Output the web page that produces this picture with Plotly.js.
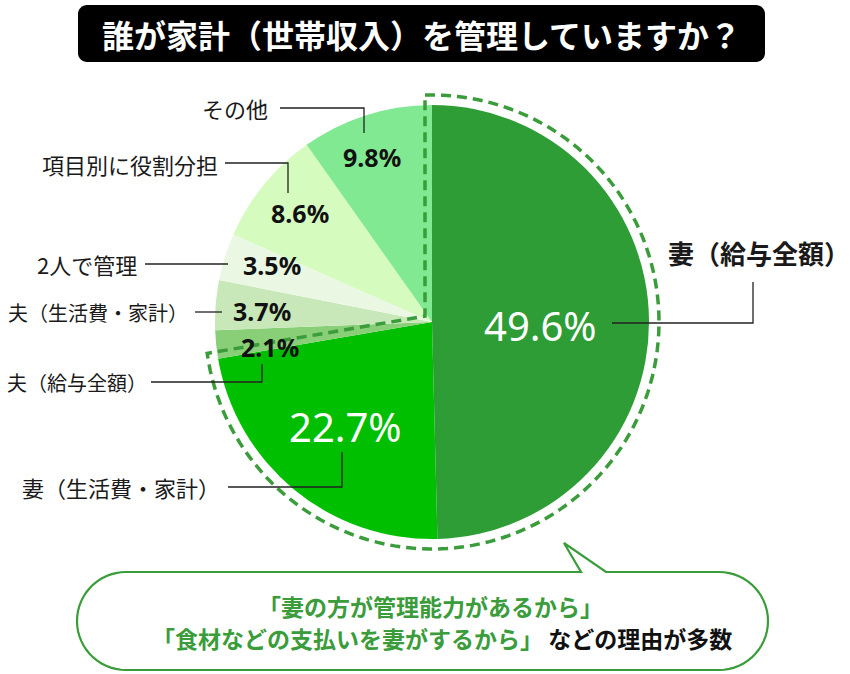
<!DOCTYPE html>
<html>
<head>
<meta charset="utf-8">
<script src="https://cdn.plot.ly/plotly-3.0.1.min.js"></script>
<style>html,body{margin:0;padding:0;background:#fff;}#chart{width:850px;height:674px;}</style>
</head>
<body>
<div id="chart"></div>
<script>
// ---- data ----
const categories = ["妻（給与全額）", "妻（生活費・家計）", "夫（給与全額）", "夫（生活費・家計）", "2人で管理", "項目別に役割分担", "その他"];
const shares = [49.6, 22.7, 2.1, 3.7, 3.5, 8.6, 9.8];
const titleText = "誰が家計（世帯収入）を管理していますか？";
const noteLine1 = "「妻の方が管理能力があるから」";
const noteLine2Green = "「食材などの支払いを妻がするから」";
const noteLine2Black = " などの理由が多数";

// ---- geometry / style ----
const W = 850, H = 674;
const cx = 432, cy = 322, R = 217;
const X = x => x / W, Y = y => 1 - y / H;
const colors = ["#2e9d36", "#00bf00", "#88cf78", "#c9e8b9", "#eaf8e3", "#d5fbbf", "#80e991"];
const FONT = '"Noto Sans CJK JP", "Noto Sans", sans-serif';

const pie = {
  type: 'pie',
  labels: categories,
  values: shares,
  sort: false,
  direction: 'clockwise',
  rotation: 0,
  textinfo: 'none',
  hoverinfo: 'none',
  showlegend: false,
  marker: {colors: colors, line: {width: 0}},
  domain: {x: [X(cx - R), X(cx + R)], y: [Y(cy + R), Y(cy - R)]}
};

// label layout (pixel positions)
const labelPos = [
  {t: [759, 252], anchor: 'center', bold: true, size: 26, pct: [540, 326], pctColor: '#fff', pctSize: 40,
   line: [[612, 323], [753, 323], [753, 282]]},
  {t: [222, 487], anchor: 'right', size: 22, pct: [345, 427], pctColor: '#fff', pctSize: 40,
   line: [[228, 487], [342, 487], [342, 452]]},
  {t: [149, 382], anchor: 'right', size: 20, pct: [270, 347], line: [[151, 382], [262, 382], [262, 364]]},
  {t: [190, 312], anchor: 'right', size: 20, pct: [262, 311], line: [[195, 312], [222, 312]]},
  {t: [139, 264], anchor: 'right', size: 22, pct: [272, 265], line: [[145, 264], [228, 264]]},
  {t: [220, 164], anchor: 'right', size: 22, pct: [300, 213], line: [[225, 163], [288, 163], [288, 193]]},
  {t: [270, 108], anchor: 'right', size: 22, pct: [372, 157], line: [[280, 108], [364, 108], [364, 133]]}
];

const annotations = [];
const shapes = [];
function pathFrom(pts, close) {
  return pts.map((p, i) => (i ? 'L' : 'M') + X(p[0]).toFixed(5) + ',' + Y(p[1]).toFixed(5)).join(' ') + (close ? ' Z' : '');
}

// title box
const tb = {x0: 78, x1: 765, y0: 5, y1: 62, r: 9};
function roundRectPts(x0, y0, x1, y1, r) {
  const pts = [];
  const corner = (ccx, ccy, a0) => { for (let i = 0; i <= 8; i++) { const a = (a0 + i * 90 / 8) * Math.PI / 180; pts.push([ccx + r * Math.cos(a), ccy + r * Math.sin(a)]); } };
  corner(x1 - r, y0 + r, -90); corner(x1 - r, y1 - r, 0); corner(x0 + r, y1 - r, 90); corner(x0 + r, y0 + r, 180);
  return pts;
}
shapes.push({type: 'path', xref: 'paper', yref: 'paper', path: pathFrom(roundRectPts(tb.x0, tb.y0, tb.x1, tb.y1, tb.r), true),
  fillcolor: '#000', line: {width: 0}, layer: 'above'});
annotations.push({xref: 'paper', yref: 'paper', x: X((tb.x0 + tb.x1) / 2), y: Y(34), xanchor: 'center', yanchor: 'middle',
  text: '<b>' + titleText + '</b>', showarrow: false, font: {family: FONT, size: 32, color: '#fff'}});

// dashed outline around wife slices
const wifeFrac = (shares[0] + shares[1]) / shares.reduce((a, b) => a + b, 0);
const Ro = 227, off = 7;
const thE = wifeFrac * 2 * Math.PI;
const thS = -Math.asin(off / Ro), thEnd = thE + Math.asin(off / Ro);
const dpts = [];
const N = 120;
for (let i = 0; i <= N; i++) { const t = thS + (thEnd - thS) * i / N; dpts.push([cx + Ro * Math.sin(t), cy - Ro * Math.cos(t)]); }
const apex = [cx - off, cy + off * (1 + Math.cos(thE)) / Math.sin(thE)];
dpts.push(apex);
shapes.push({type: 'path', xref: 'paper', yref: 'paper', path: pathFrom(dpts, true),
  line: {color: '#3a9c3a', width: 3.5, dash: '10px,6px'}, fillcolor: 'rgba(0,0,0,0)', layer: 'above'});

// labels
categories.forEach((c, i) => {
  const lp = labelPos[i];
  annotations.push({xref: 'paper', yref: 'paper', x: X(lp.t[0]), y: Y(lp.t[1]), xanchor: lp.anchor, yanchor: 'middle',
    text: lp.bold ? '<b>' + c + '</b>' : c, showarrow: false, font: {family: FONT, size: lp.size, color: '#1a1a1a'}});
  const big = lp.pctSize;
  annotations.push({xref: 'paper', yref: 'paper', x: X(lp.pct[0]), y: Y(lp.pct[1]), xanchor: 'center', yanchor: 'middle',
    text: big ? shares[i].toFixed(1) + '%' : '<b>' + shares[i].toFixed(1) + '%</b>', showarrow: false,
    font: {family: '"Noto Sans", "Open Sans", sans-serif', size: big || 25, color: lp.pctColor || '#111'}});
  shapes.push({type: 'path', xref: 'paper', yref: 'paper', path: pathFrom(lp.line, false),
    line: {color: '#222', width: 1.3}, layer: 'above'});
});

// speech bubble
const bb = {x0: 77, x1: 768, y0: 572, y1: 670};
const br = (bb.y1 - bb.y0) / 2;
const bpts = [[bb.x0 + br, bb.y0], [581, bb.y0], [564, 543], [606, bb.y0], [bb.x1 - br, bb.y0]];
for (let i = 1; i <= 30; i++) { const a = -Math.PI / 2 + Math.PI * i / 30; bpts.push([bb.x1 - br + br * Math.cos(a), bb.y0 + br + br * Math.sin(a)]); }
bpts.push([bb.x0 + br, bb.y1]);
for (let i = 1; i <= 30; i++) { const a = Math.PI / 2 + Math.PI * i / 30; bpts.push([bb.x0 + br + br * Math.cos(a), bb.y0 + br + br * Math.sin(a)]); }
shapes.push({type: 'path', xref: 'paper', yref: 'paper', path: pathFrom(bpts, true),
  line: {color: '#3a9c3a', width: 2.2}, fillcolor: '#fff', layer: 'above'});
annotations.push({xref: 'paper', yref: 'paper', x: X(430), y: Y(606), xanchor: 'center', yanchor: 'middle', showarrow: false,
  text: '<b>' + noteLine1 + '</b>', font: {family: FONT, size: 23, color: '#3a9c3a'}});
annotations.push({xref: 'paper', yref: 'paper', x: X(442), y: Y(638), xanchor: 'center', yanchor: 'middle', showarrow: false,
  text: '<b><span style="color:#3a9c3a">' + noteLine2Green + '</span>' + noteLine2Black + '</b>', font: {family: FONT, size: 23, color: '#111'}});

const layout = {
  width: W, height: H, autosize: false,
  margin: {l: 0, r: 0, t: 0, b: 0},
  paper_bgcolor: '#fff', plot_bgcolor: '#fff',
  shapes: shapes, annotations: annotations
};
Plotly.newPlot('chart', [pie], layout, {staticPlot: true, displayModeBar: false});
</script>
</body>
</html>
